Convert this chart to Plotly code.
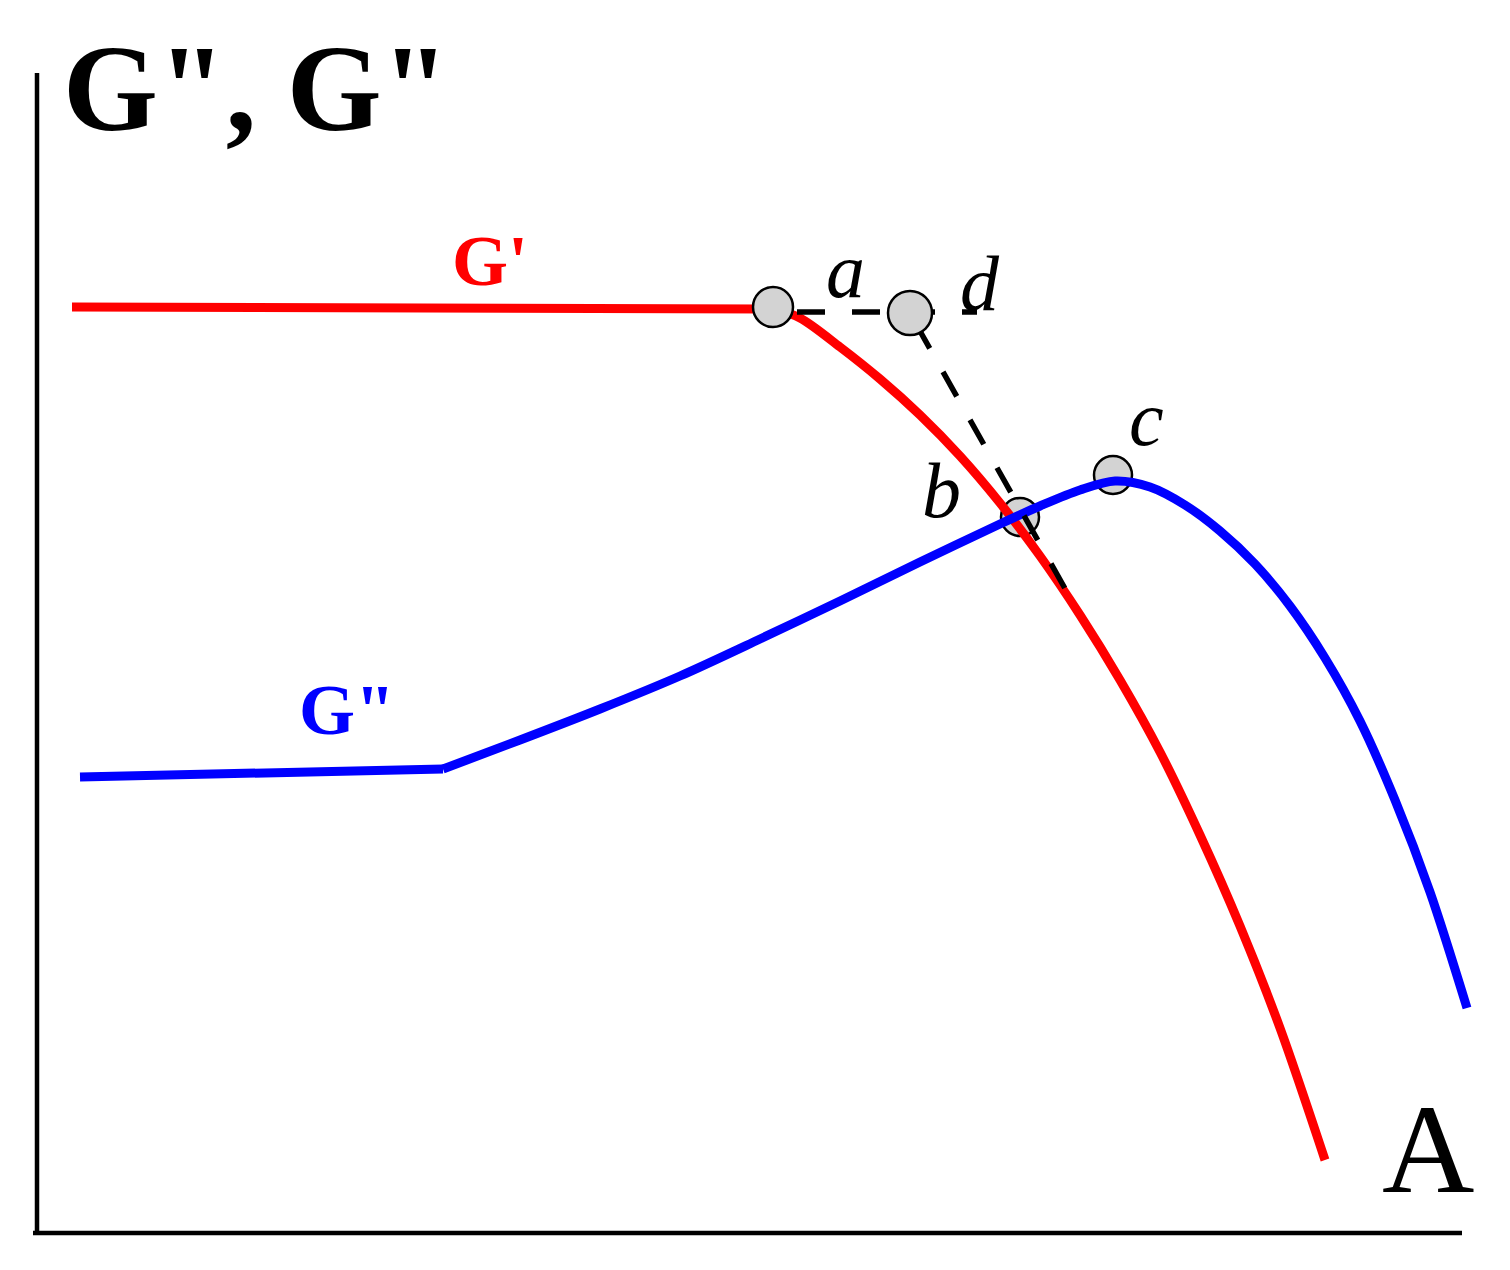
import plotly.graph_objects as go

# ---- data (x: amplitude A, y: modulus, arbitrary units) ----
gp_x = [35, 738, 763, 803, 843, 883, 923, 963, 1003, 1043, 1083, 1123, 1163, 1203, 1243, 1288]
gp_y = [926, 924, 915, 886, 854, 818, 777, 730, 677, 618, 553, 481, 398, 307, 205, 73]
gp_knee = 1          # index where the plateau of G' ends (point a)

gpp_x = [43, 406, 483, 563, 643, 723, 803, 883, 963, 1003, 1043, 1078, 1113, 1148, 1183,
         1218, 1253, 1288, 1323, 1358, 1393, 1430]
gpp_y = [456, 464, 493, 524, 557, 594, 632, 671, 709, 727, 743, 752, 746, 728, 702,
         669, 627, 575, 512, 433, 341, 225]
gpp_knee = 1         # index where the plateau of G" ends

# dashed construction lines
dash_h_x = [760, 940]
dash_h_y = [921, 921]
dash_d_x = [879, 1030]
dash_d_y = [909, 641]

# characteristic points
pt_labels = ["a", "d", "b", "c"]
pt_x = [736, 873, 983, 1076]
pt_y = [926, 920, 716, 758]
pt_size = [40, 44, 38, 38]

# label positions
lab_a = (808, 963)
lab_d = (943, 950)
lab_b = (904, 743)
lab_c = (1109, 815)

X_MAX = 1425
Y_MAX = 1160

SERIF = "Liberation Serif"
RED = "#ff0000"
BLUE = "#0000ff"
GRAY = "#d3d3d3"
LW = 9

fig = go.Figure()


def circles(idx):
    return go.Scatter(
        x=[pt_x[i] for i in idx], y=[pt_y[i] for i in idx], mode="markers",
        text=[pt_labels[i] for i in idx],
        marker=dict(size=[pt_size[i] for i in idx], color=GRAY, opacity=1,
                    line=dict(color="black", width=2.5)),
        hoverinfo="text", showlegend=False, cliponaxis=False)


def curve(xs, ys, knee, color, name):
    # plateau drawn straight, decaying part drawn as a smooth spline
    plateau = go.Scatter(x=xs[:knee + 1], y=ys[:knee + 1], mode="lines", name=name,
                         line=dict(color=color, width=LW), showlegend=False)
    smooth = go.Scatter(x=xs[knee:], y=ys[knee:], mode="lines", name=name,
                        line=dict(color=color, width=LW, shape="spline", smoothing=0.9),
                        showlegend=False)
    return [plateau, smooth]


# circles behind the curves (b, c)
fig.add_trace(circles([2, 3]))

for tr in curve(gp_x, gp_y, gp_knee, RED, "G'"):
    fig.add_trace(tr)
for tr in curve(gpp_x, gpp_y, gpp_knee, BLUE, 'G"'):
    fig.add_trace(tr)

for xs, ys in ((dash_h_x, dash_h_y), (dash_d_x, dash_d_y)):
    fig.add_trace(go.Scatter(
        x=xs, y=ys, mode="lines",
        line=dict(color="black", width=5.5, dash="28px,27px"),
        hoverinfo="skip", showlegend=False))

# circles on top (a, d)
fig.add_trace(circles([0, 1]))

# axes lines
fig.add_shape(type="line", x0=0, y0=-2, x1=0, y1=Y_MAX, xref="x", yref="y",
              line=dict(color="black", width=4.5))
fig.add_shape(type="line", x0=-4, y0=0, x1=X_MAX, y1=0, xref="x", yref="y",
              line=dict(color="black", width=4.5))

ann = []
ann.append(dict(x=24, y=1145, text='G", G"', xanchor="left", yanchor="middle",
                font=dict(family=SERIF, size=122, color="black", weight="bold")))
ann.append(dict(x=453, y=972, text="G'", xanchor="center", yanchor="middle",
                font=dict(family=SERIF, size=72, color=RED, weight="bold")))
ann.append(dict(x=310, y=523, text='G"', xanchor="center", yanchor="middle",
                font=dict(family=SERIF, size=72, color=BLUE, weight="bold")))
ann.append(dict(x=1391, y=84, text="A", xanchor="center", yanchor="middle",
                font=dict(family=SERIF, size=128, color="black")))
for (lx, ly), t in zip((lab_a, lab_d, lab_b, lab_c), pt_labels):
    ann.append(dict(x=lx, y=ly, text=t, xanchor="center", yanchor="middle",
                    font=dict(family=SERIF, size=78, color="black", style="italic")))
for a in ann:
    a.update(xref="x", yref="y", showarrow=False)

fig.update_layout(
    width=1510, height=1270,
    margin=dict(l=0, r=0, t=0, b=0),
    paper_bgcolor="white", plot_bgcolor="white",
    annotations=ann,
    xaxis=dict(range=[-37, 1473], visible=False, fixedrange=True),
    yaxis=dict(range=[-37, 1233], visible=False, fixedrange=True),
    showlegend=False,
)

fig.write_html("out.html", config={"displayModeBar": False},
               post_script="document.body.style.margin='0';")
